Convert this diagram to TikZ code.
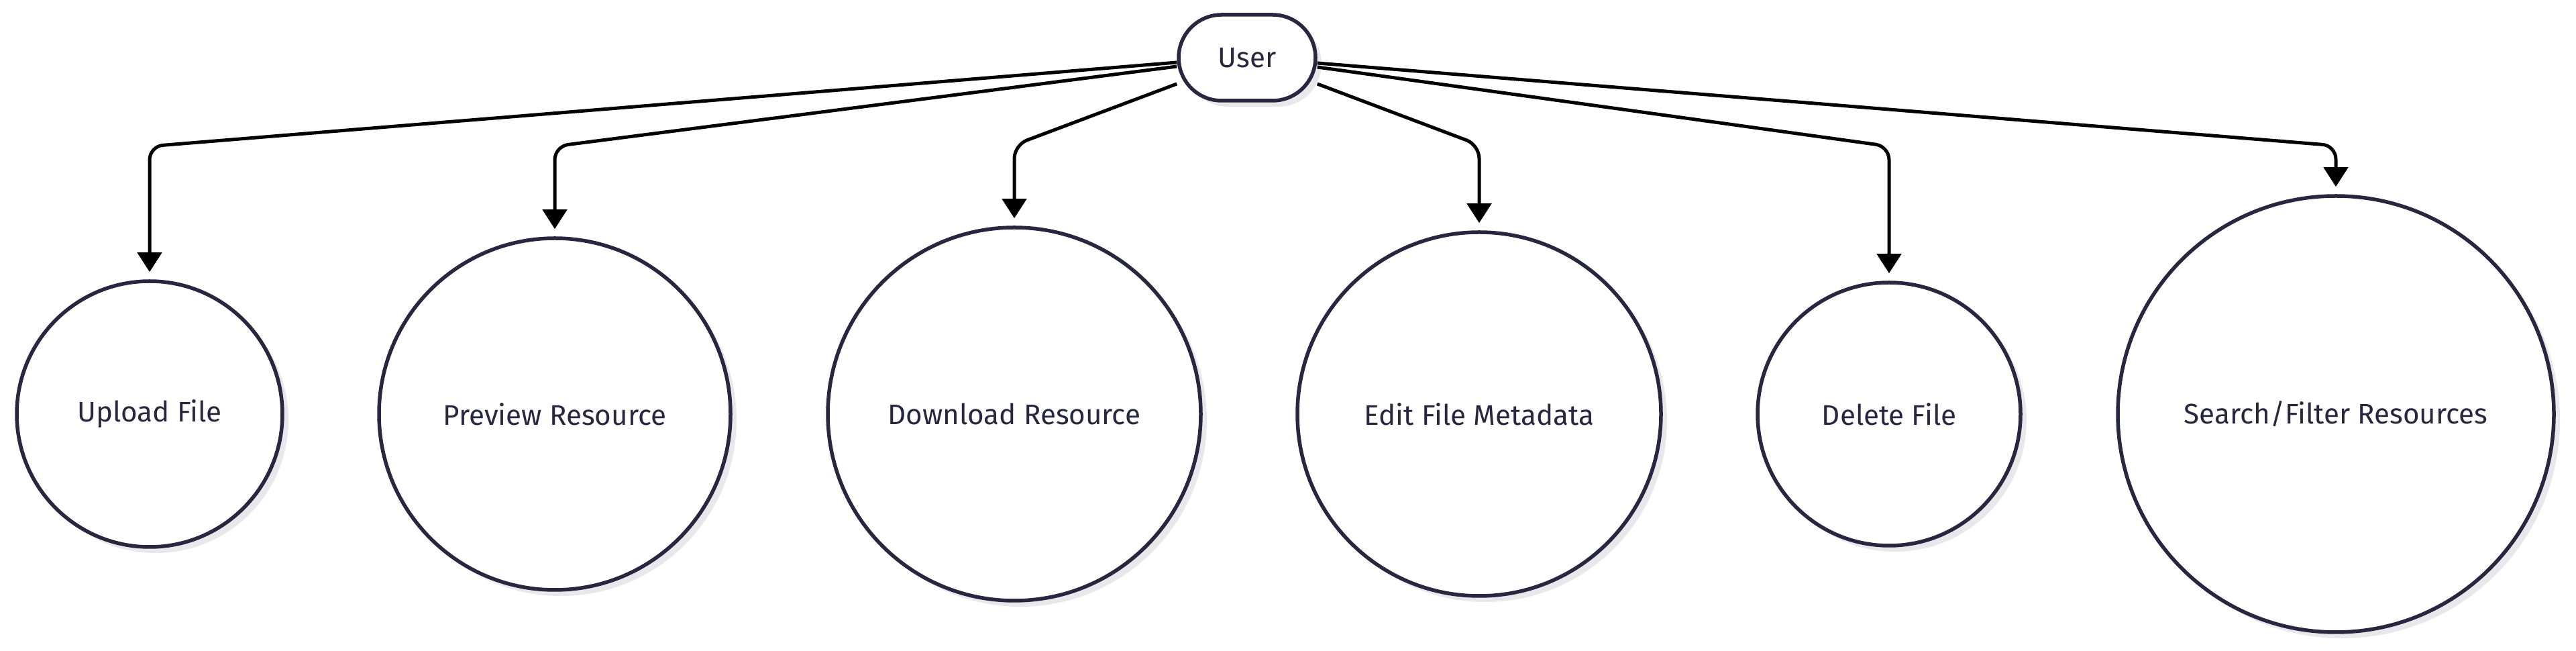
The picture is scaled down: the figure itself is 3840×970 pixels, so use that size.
\documentclass[tikz,border=0pt]{standalone}
\usepackage{fontspec}
\setmainfont{Fira Sans}
\usetikzlibrary{arrows.meta}
\usetikzlibrary{shadows}

\definecolor{ink}{HTML}{27273F}
\definecolor{shade}{HTML}{E8E8EC}

\tikzset{
  shade/.style={drop shadow={shadow xshift=0.9mm, shadow yshift=-0.9mm, fill=shade, opacity=1}},
  usecase/.style={circle, draw=ink, line width=0.55mm, fill=white, text=ink, inner sep=0pt,
    font=\fontsize{12}{14}\selectfont, shade},
  actor/.style={rectangle, rounded corners=6.4mm, draw=ink, line width=0.55mm, fill=white, text=ink,
    minimum width=20.4mm, minimum height=12.8mm, font=\fontsize{12}{14}\selectfont, shade},
  flow/.style={-{Triangle[width=3.6mm,length=2.9mm]}, line width=0.5mm, rounded corners=2mm, shorten >=1.1mm}
}

\begin{document}
\begin{tikzpicture}[x=0.1mm,y=-0.1mm]
\useasboundingbox (0,0) rectangle (3840,970);

\node[actor] (user) at (1859,86) {User};

\node[usecase, minimum size=39.6mm] (upload) at (223,617) {Upload File};
\node[usecase, minimum size=52.4mm] (preview) at (827,617) {Preview Resource};
\node[usecase, minimum size=55.6mm] (download) at (1512,617) {Download Resource};
\node[usecase, minimum size=54.2mm] (edit) at (2205,617) {Edit File Metadata};
\node[usecase, minimum size=39.2mm] (delete) at (2816,617) {Delete File};
\node[usecase, minimum size=65mm] (search) at (3482,617) {Search/Filter Resources};

\draw[flow] ([yshift=-0.7mm]user.west) -- (upload |- 0,218) -- (upload);
\draw[flow] ([yshift=-1.3mm]user.west) -- (preview |- 0,218) -- (preview);
\draw[flow] ([yshift=-3.9mm]user.west) -- (download |- 0,216) -- (download);
\draw[flow] ([yshift=-3.9mm]user.east) -- (edit |- 0,216) -- (edit);
\draw[flow] ([yshift=-1.4mm]user.east) -- (delete |- 0,218) -- (delete);
\draw[flow] ([yshift=-0.8mm]user.east) -- (search |- 0,217) -- (search);
\end{tikzpicture}
\end{document}
